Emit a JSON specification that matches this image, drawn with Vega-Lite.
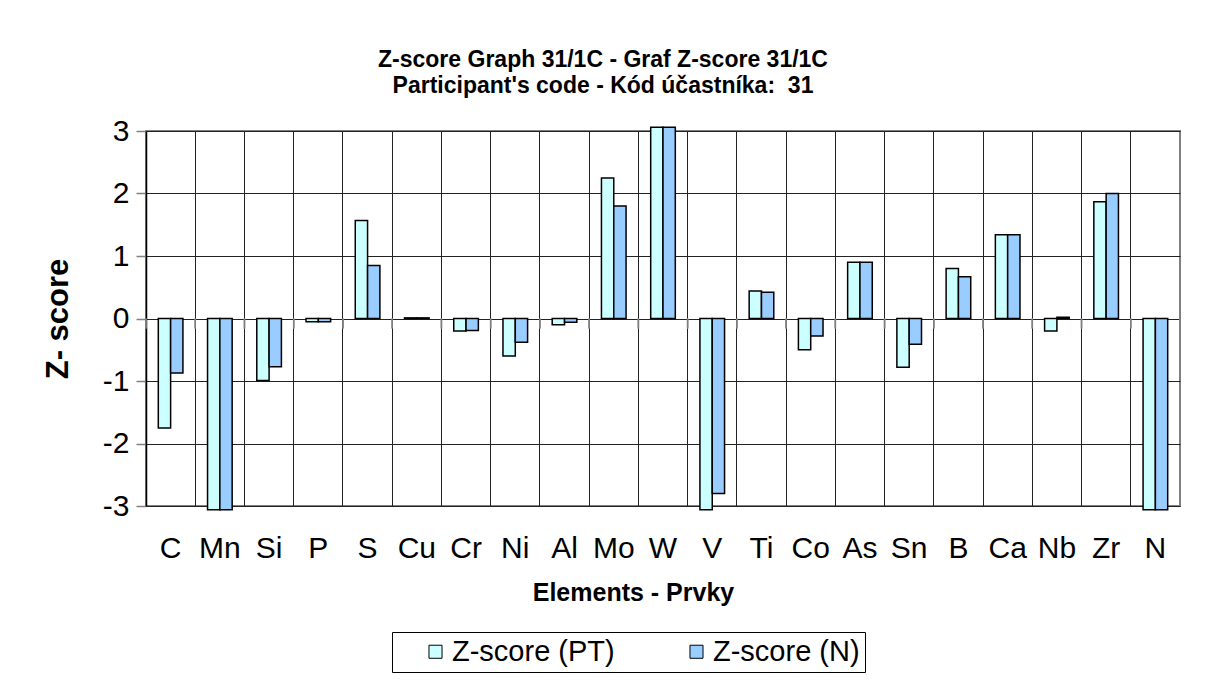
{
  "$schema": "https://vega.github.io/schema/vega-lite/v6.json",
  "autosize": "none",
  "width": 1034,
  "height": 375,
  "padding": {"left": 146, "top": 131, "right": 37, "bottom": 192},
  "background": "white",
  "config": {
    "font": "Liberation Sans",
    "view": {"stroke": "#808080", "strokeWidth": 2},
    "axis": {"gridColor": "#222222", "gridWidth": 1, "gridOpacity": 1}
  },
  "title": {
    "text": ["Z-score Graph 31/1C - Graf Z-score 31/1C", "Participant's code - Kód účastníka:\u00a0 31"],
    "font": "Liberation Sans",
    "fontSize": 23,
    "fontWeight": "bold",
    "lineHeight": 26,
    "anchor": "middle",
    "dx": -60,
    "offset": 18,
    "color": "black"
  },
  "data": {
    "values": [
      {"el": "C", "series": "Z-score (PT)", "z": -1.75}, {"el": "C", "series": "Z-score (N)", "z": -0.87},
      {"el": "Mn", "series": "Z-score (PT)", "z": -3.06}, {"el": "Mn", "series": "Z-score (N)", "z": -3.06},
      {"el": "Si", "series": "Z-score (PT)", "z": -0.99}, {"el": "Si", "series": "Z-score (N)", "z": -0.77},
      {"el": "P", "series": "Z-score (PT)", "z": -0.05}, {"el": "P", "series": "Z-score (N)", "z": -0.05},
      {"el": "S", "series": "Z-score (PT)", "z": 1.57}, {"el": "S", "series": "Z-score (N)", "z": 0.85},
      {"el": "Cu", "series": "Z-score (PT)", "z": 0.01}, {"el": "Cu", "series": "Z-score (N)", "z": 0.01},
      {"el": "Cr", "series": "Z-score (PT)", "z": -0.2}, {"el": "Cr", "series": "Z-score (N)", "z": -0.19},
      {"el": "Ni", "series": "Z-score (PT)", "z": -0.6}, {"el": "Ni", "series": "Z-score (N)", "z": -0.38},
      {"el": "Al", "series": "Z-score (PT)", "z": -0.1}, {"el": "Al", "series": "Z-score (N)", "z": -0.06},
      {"el": "Mo", "series": "Z-score (PT)", "z": 2.25}, {"el": "Mo", "series": "Z-score (N)", "z": 1.8},
      {"el": "W", "series": "Z-score (PT)", "z": 3.06}, {"el": "W", "series": "Z-score (N)", "z": 3.06},
      {"el": "V", "series": "Z-score (PT)", "z": -3.06}, {"el": "V", "series": "Z-score (N)", "z": -2.8},
      {"el": "Ti", "series": "Z-score (PT)", "z": 0.44}, {"el": "Ti", "series": "Z-score (N)", "z": 0.42},
      {"el": "Co", "series": "Z-score (PT)", "z": -0.5}, {"el": "Co", "series": "Z-score (N)", "z": -0.28},
      {"el": "As", "series": "Z-score (PT)", "z": 0.9}, {"el": "As", "series": "Z-score (N)", "z": 0.9},
      {"el": "Sn", "series": "Z-score (PT)", "z": -0.78}, {"el": "Sn", "series": "Z-score (N)", "z": -0.41},
      {"el": "B", "series": "Z-score (PT)", "z": 0.8}, {"el": "B", "series": "Z-score (N)", "z": 0.67},
      {"el": "Ca", "series": "Z-score (PT)", "z": 1.34}, {"el": "Ca", "series": "Z-score (N)", "z": 1.34},
      {"el": "Nb", "series": "Z-score (PT)", "z": -0.2}, {"el": "Nb", "series": "Z-score (N)", "z": 0.02},
      {"el": "Zr", "series": "Z-score (PT)", "z": 1.87}, {"el": "Zr", "series": "Z-score (N)", "z": 2.0},
      {"el": "N", "series": "Z-score (PT)", "z": -3.06}, {"el": "N", "series": "Z-score (N)", "z": -3.06}
    ]
  },
  "layer": [
    {
      "mark": {"type": "bar", "stroke": "black", "strokeWidth": 1.5, "clip": false},
      "encoding": {
        "x": {
          "field": "el", "type": "nominal", "sort": null,
          "scale": {"paddingInner": 0, "paddingOuter": 0},
          "axis": {
            "title": "Elements - Prvky",
            "titleFontSize": 25, "titleFontWeight": "bold", "titleColor": "black",
            "titlePadding": 17, "titleX": 487,
            "labelFontSize": 30, "labelColor": "black", "labelAngle": 0, "labelPadding": 27,
            "ticks": false, "domain": false,
            "grid": true, "bandPosition": 0
          }
        },
        "xOffset": {
          "field": "series", "type": "nominal", "sort": ["Z-score (PT)", "Z-score (N)"],
          "scale": {"paddingInner": 0, "paddingOuter": 1.46}
        },
        "y": {
          "field": "z", "type": "quantitative",
          "scale": {"domain": [-3, 3], "nice": false, "zero": false},
          "axis": {
            "title": "Z- score",
            "titleFontSize": 31, "titleFontWeight": "bold", "titleColor": "black",
            "titleX": -72,
            "values": [-3, -2, -1, 0, 1, 2, 3],
            "labelExpr": "'' + datum.value",
            "labelFontSize": 30, "labelColor": "black", "labelPadding": 7,
            "tickSize": 10, "tickColor": "#808080", "tickWidth": 1.5,
            "domainColor": "black", "domainWidth": 1.5,
            "grid": true
          }
        },
        "fill": {
          "field": "series", "type": "nominal",
          "scale": {"domain": ["Z-score (PT)", "Z-score (N)"], "range": ["#CCFFFF", "#99CCFF"]},
          "legend": {
            "title": null, "orient": "none", "legendX": 246, "legendY": 501,
            "direction": "horizontal", "columns": 2, "gridAlign": "all",
            "strokeColor": "black", "padding": 5,
            "labelFontSize": 29, "labelColor": "black", "labelLimit": 400,
            "symbolType": "square", "symbolSize": 170, "symbolStrokeColor": "black", "symbolStrokeWidth": 1,
            "symbolOffset": 24,
            "columnPadding": 43, "labelOffset": 2
          }
        }
      }
    },
    {
      "mark": {"type": "rule", "color": "#808080", "strokeWidth": 1.5},
      "encoding": {
        "x": {"field": "el", "type": "nominal", "sort": null, "bandPosition": 0},
        "y": {"datum": 0},
        "y2": {"datum": -0.16}
      }
    },
    {
      "transform": [{"filter": "datum.el == 'N'"}],
      "mark": {"type": "rule", "color": "#808080", "strokeWidth": 1.5},
      "encoding": {
        "x": {"field": "el", "type": "nominal", "sort": null, "bandPosition": 1},
        "y": {"datum": 0},
        "y2": {"datum": -0.16}
      }
    }
  ]
}
